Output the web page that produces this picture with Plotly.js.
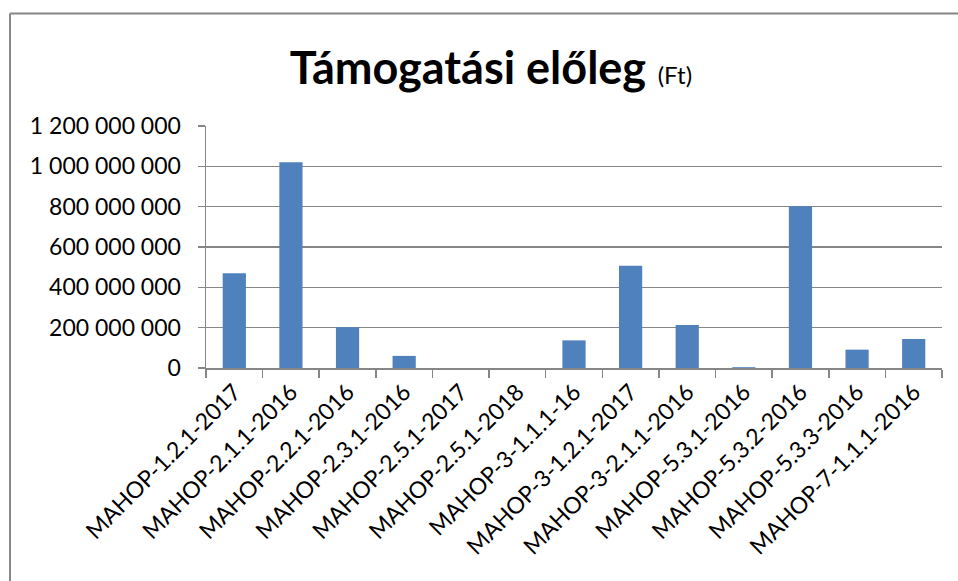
<!DOCTYPE html>
<html>
<head>
<meta charset="utf-8">
<script src="https://cdn.plot.ly/plotly-3.0.1.min.js"></script>
<style>
  html, body { margin: 0; padding: 0; background: #ffffff; }
  #chart { width: 958px; height: 581px; }
</style>
</head>
<body>
<div id="chart"></div>
<script>
const categories = [
  "MAHOP-1.2.1-2017",
  "MAHOP-2.1.1-2016",
  "MAHOP-2.2.1-2016",
  "MAHOP-2.3.1-2016",
  "MAHOP-2.5.1-2017",
  "MAHOP-2.5.1-2018",
  "MAHOP-3-1.1.1-16",
  "MAHOP-3-1.2.1-2017",
  "MAHOP-3-2.1.1-2016",
  "MAHOP-5.3.1-2016",
  "MAHOP-5.3.2-2016",
  "MAHOP-5.3.3-2016",
  "MAHOP-7-1.1.1-2016"
];
const elolegValues = [
  470000000,
  1020000000,
  202000000,
  60000000,
  0,
  0,
  137000000,
  507000000,
  213000000,
  4000000,
  802000000,
  91000000,
  144000000
];
const yTickValues = [0, 200000000, 400000000, 600000000, 800000000, 1000000000, 1200000000];

const W = 958, H = 581;
const plotL = 206, plotR = 942, plotT = 126, plotB = 368;
const pw = plotR - plotL, ph = plotB - plotT;
const px = v => (v - plotL) / pw;
const py = v => (plotB - v) / ph;

const font = "Lato, 'Open Sans', 'DejaVu Sans', sans-serif";
const gray = "#868686";

const trace = {
  type: "bar",
  x: categories,
  y: elolegValues,
  marker: { color: "#4F81BD", line: { width: 0 } },
  hoverinfo: "x+y"
};

const layout = {
  width: W,
  height: H,
  margin: { l: plotL, r: W - plotR, t: plotT, b: H - plotB, pad: 0 },
  paper_bgcolor: "#ffffff",
  plot_bgcolor: "#ffffff",
  separators: ", ",
  showlegend: false,
  bargap: 0.59,
  title: {
    text: "<b>Támogatási előleg</b> <span style='font-size:24px'>(Ft)</span>",
    font: { family: font, size: 45, color: "#000000" },
    xref: "container",
    x: 491 / W,
    xanchor: "center",
    yref: "container",
    y: 1 - 68 / H,
    yanchor: "middle"
  },
  xaxis: {
    type: "category",
    tickangle: -45,
    tickfont: { family: font, size: 23, color: "#000000" },
    ticks: "outside",
    tickson: "boundaries",
    ticklen: 8,
    tickcolor: gray,
    tickwidth: 1.5,
    showline: true,
    linecolor: gray,
    linewidth: 1.5,
    showgrid: false,
    zeroline: false,
    fixedrange: true
  },
  yaxis: {
    range: [0, 1200000000],
    tickvals: yTickValues,
    tickformat: ",d",
    tickfont: { family: font, size: 23, color: "#000000" },
    ticks: "outside",
    ticklen: 7,
    tickcolor: gray,
    tickwidth: 1.5,
    ticklabelstandoff: 12,
    showline: true,
    linecolor: gray,
    linewidth: 1.5,
    showgrid: true,
    gridcolor: gray,
    gridwidth: 1.3,
    zeroline: false,
    fixedrange: true
  },
  shapes: [
    { type: "line", xref: "paper", yref: "paper",
      x0: px(10), x1: px(W + 10), y0: py(13.5), y1: py(13.5),
      line: { color: gray, width: 2 } },
    { type: "line", xref: "paper", yref: "paper",
      x0: px(10), x1: px(10), y0: py(13.5), y1: py(H + 10),
      line: { color: gray, width: 2 } }
  ]
};

Plotly.newPlot("chart", [trace], layout, { displayModeBar: false, staticPlot: true });
</script>
</body>
</html>
